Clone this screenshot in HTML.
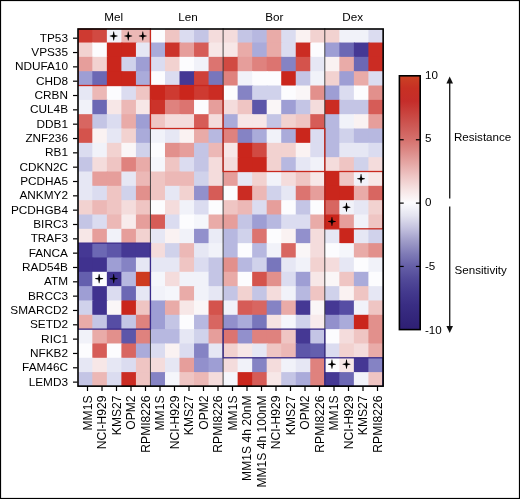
<!DOCTYPE html><html><head><meta charset="utf-8"><style>html,body{margin:0;padding:0;background:#fff;}#f{position:relative;width:520px;height:499px;overflow:hidden;background:#fff;will-change:transform;}svg{position:absolute;left:0;top:0;display:block;}text{font-family:"Liberation Sans",sans-serif;fill:#000;}</style></head><body><div id="f">
<svg width="520" height="499" viewBox="0 0 520 499">
<rect x="78.30" y="28.80" width="15.03" height="14.73" fill="#ce3a31"/>
<rect x="92.33" y="28.80" width="15.53" height="14.73" fill="#d14a42"/>
<rect x="106.86" y="28.80" width="15.53" height="14.73" fill="#f1f2f9"/>
<rect x="121.39" y="28.80" width="15.53" height="14.73" fill="#ecb8b6"/>
<rect x="135.92" y="28.80" width="15.53" height="14.73" fill="#ecb8b6"/>
<rect x="150.45" y="28.80" width="15.53" height="14.73" fill="#fcfcfe"/>
<rect x="164.98" y="28.80" width="15.53" height="14.73" fill="#efc5c3"/>
<rect x="179.51" y="28.80" width="15.53" height="14.73" fill="#dbdcf0"/>
<rect x="194.04" y="28.80" width="15.53" height="14.73" fill="#c4c5e5"/>
<rect x="208.57" y="28.80" width="15.53" height="14.73" fill="#f4dcdc"/>
<rect x="223.10" y="28.80" width="15.53" height="14.73" fill="#f4dcdc"/>
<rect x="237.63" y="28.80" width="15.53" height="14.73" fill="#c4c5e5"/>
<rect x="252.16" y="28.80" width="15.53" height="14.73" fill="#b7b8e0"/>
<rect x="266.69" y="28.80" width="15.53" height="14.73" fill="#e9aba8"/>
<rect x="281.22" y="28.80" width="15.53" height="14.73" fill="#dbdcf0"/>
<rect x="295.75" y="28.80" width="15.53" height="14.73" fill="#faf2f2"/>
<rect x="310.28" y="28.80" width="15.53" height="14.73" fill="#f2d2d0"/>
<rect x="324.81" y="28.80" width="15.53" height="14.73" fill="#f2d2d0"/>
<rect x="339.34" y="28.80" width="15.53" height="14.73" fill="#f1f2f9"/>
<rect x="353.87" y="28.80" width="15.53" height="14.73" fill="#f1f2f9"/>
<rect x="368.40" y="28.80" width="14.53" height="14.73" fill="#dbdcf0"/>
<rect x="78.30" y="42.53" width="15.03" height="15.33" fill="#f2d2d0"/>
<rect x="92.33" y="42.53" width="15.53" height="15.33" fill="#fcfcfe"/>
<rect x="106.86" y="42.53" width="15.53" height="15.33" fill="#ca261c"/>
<rect x="121.39" y="42.53" width="15.53" height="15.33" fill="#ca261c"/>
<rect x="135.92" y="42.53" width="15.53" height="15.33" fill="#e6e7f4"/>
<rect x="150.45" y="42.53" width="15.53" height="15.33" fill="#aaabda"/>
<rect x="164.98" y="42.53" width="15.53" height="15.33" fill="#cc332a"/>
<rect x="179.51" y="42.53" width="15.53" height="15.33" fill="#e69e9b"/>
<rect x="194.04" y="42.53" width="15.53" height="15.33" fill="#d65c57"/>
<rect x="208.57" y="42.53" width="15.53" height="15.33" fill="#f7e7e7"/>
<rect x="223.10" y="42.53" width="15.53" height="15.33" fill="#f7e7e7"/>
<rect x="237.63" y="42.53" width="15.53" height="15.33" fill="#e9aba8"/>
<rect x="252.16" y="42.53" width="15.53" height="15.33" fill="#aaabda"/>
<rect x="266.69" y="42.53" width="15.53" height="15.33" fill="#e9aba8"/>
<rect x="281.22" y="42.53" width="15.53" height="15.33" fill="#dbdcf0"/>
<rect x="295.75" y="42.53" width="15.53" height="15.33" fill="#cb2c23"/>
<rect x="310.28" y="42.53" width="15.53" height="15.33" fill="#fcfcfe"/>
<rect x="324.81" y="42.53" width="15.53" height="15.33" fill="#9e9ed4"/>
<rect x="339.34" y="42.53" width="15.53" height="15.33" fill="#6c68b4"/>
<rect x="353.87" y="42.53" width="15.53" height="15.33" fill="#453894"/>
<rect x="368.40" y="42.53" width="14.53" height="15.33" fill="#cb2c23"/>
<rect x="78.30" y="56.86" width="15.03" height="15.33" fill="#e69e9b"/>
<rect x="92.33" y="56.86" width="15.53" height="15.33" fill="#f2d2d0"/>
<rect x="106.86" y="56.86" width="15.53" height="15.33" fill="#ca261c"/>
<rect x="121.39" y="56.86" width="15.53" height="15.33" fill="#d0d2eb"/>
<rect x="135.92" y="56.86" width="15.53" height="15.33" fill="#9e9ed4"/>
<rect x="150.45" y="56.86" width="15.53" height="15.33" fill="#dbdcf0"/>
<rect x="164.98" y="56.86" width="15.53" height="15.33" fill="#f2d2d0"/>
<rect x="179.51" y="56.86" width="15.53" height="15.33" fill="#fcfcfe"/>
<rect x="194.04" y="56.86" width="15.53" height="15.33" fill="#f1f2f9"/>
<rect x="208.57" y="56.86" width="15.53" height="15.33" fill="#dc7470"/>
<rect x="223.10" y="56.86" width="15.53" height="15.33" fill="#d14a42"/>
<rect x="237.63" y="56.86" width="15.53" height="15.33" fill="#e69e9b"/>
<rect x="252.16" y="56.86" width="15.53" height="15.33" fill="#df827e"/>
<rect x="266.69" y="56.86" width="15.53" height="15.33" fill="#dc7470"/>
<rect x="281.22" y="56.86" width="15.53" height="15.33" fill="#8583c4"/>
<rect x="295.75" y="56.86" width="15.53" height="15.33" fill="#d4534c"/>
<rect x="310.28" y="56.86" width="15.53" height="15.33" fill="#e6e7f4"/>
<rect x="324.81" y="56.86" width="15.53" height="15.33" fill="#faf2f2"/>
<rect x="339.34" y="56.86" width="15.53" height="15.33" fill="#e9aba8"/>
<rect x="353.87" y="56.86" width="15.53" height="15.33" fill="#6c68b4"/>
<rect x="368.40" y="56.86" width="14.53" height="15.33" fill="#cb2c23"/>
<rect x="78.30" y="71.19" width="15.03" height="15.33" fill="#9e9ed4"/>
<rect x="92.33" y="71.19" width="15.53" height="15.33" fill="#6c68b4"/>
<rect x="106.86" y="71.19" width="15.53" height="15.33" fill="#ca261c"/>
<rect x="121.39" y="71.19" width="15.53" height="15.33" fill="#ca261c"/>
<rect x="135.92" y="71.19" width="15.53" height="15.33" fill="#aaabda"/>
<rect x="150.45" y="71.19" width="15.53" height="15.33" fill="#fcfcfe"/>
<rect x="164.98" y="71.19" width="15.53" height="15.33" fill="#dbdcf0"/>
<rect x="179.51" y="71.19" width="15.53" height="15.33" fill="#453894"/>
<rect x="194.04" y="71.19" width="15.53" height="15.33" fill="#cf4038"/>
<rect x="208.57" y="71.19" width="15.53" height="15.33" fill="#7876bc"/>
<rect x="223.10" y="71.19" width="15.53" height="15.33" fill="#df827e"/>
<rect x="237.63" y="71.19" width="15.53" height="15.33" fill="#f1f2f9"/>
<rect x="252.16" y="71.19" width="15.53" height="15.33" fill="#fcfcfe"/>
<rect x="266.69" y="71.19" width="15.53" height="15.33" fill="#fcfcfe"/>
<rect x="281.22" y="71.19" width="15.53" height="15.33" fill="#ca261c"/>
<rect x="295.75" y="71.19" width="15.53" height="15.33" fill="#c4c5e5"/>
<rect x="310.28" y="71.19" width="15.53" height="15.33" fill="#f1f2f9"/>
<rect x="324.81" y="71.19" width="15.53" height="15.33" fill="#f2d2d0"/>
<rect x="339.34" y="71.19" width="15.53" height="15.33" fill="#9e9ed4"/>
<rect x="353.87" y="71.19" width="15.53" height="15.33" fill="#e9aba8"/>
<rect x="368.40" y="71.19" width="14.53" height="15.33" fill="#dbdcf0"/>
<rect x="78.30" y="85.52" width="15.03" height="15.33" fill="#e6e7f4"/>
<rect x="92.33" y="85.52" width="15.53" height="15.33" fill="#ecb8b6"/>
<rect x="106.86" y="85.52" width="15.53" height="15.33" fill="#fcfcfe"/>
<rect x="121.39" y="85.52" width="15.53" height="15.33" fill="#dbdcf0"/>
<rect x="135.92" y="85.52" width="15.53" height="15.33" fill="#efc5c3"/>
<rect x="150.45" y="85.52" width="15.53" height="15.33" fill="#ca261c"/>
<rect x="164.98" y="85.52" width="15.53" height="15.33" fill="#ce3a31"/>
<rect x="179.51" y="85.52" width="15.53" height="15.33" fill="#ca261c"/>
<rect x="194.04" y="85.52" width="15.53" height="15.33" fill="#ce3a31"/>
<rect x="208.57" y="85.52" width="15.53" height="15.33" fill="#cb2c23"/>
<rect x="223.10" y="85.52" width="15.53" height="15.33" fill="#fcfcfe"/>
<rect x="237.63" y="85.52" width="15.53" height="15.33" fill="#8583c4"/>
<rect x="252.16" y="85.52" width="15.53" height="15.33" fill="#d0d2eb"/>
<rect x="266.69" y="85.52" width="15.53" height="15.33" fill="#d0d2eb"/>
<rect x="281.22" y="85.52" width="15.53" height="15.33" fill="#fcfcfe"/>
<rect x="295.75" y="85.52" width="15.53" height="15.33" fill="#faf6f7"/>
<rect x="310.28" y="85.52" width="15.53" height="15.33" fill="#e2908c"/>
<rect x="324.81" y="85.52" width="15.53" height="15.33" fill="#9e9ed4"/>
<rect x="339.34" y="85.52" width="15.53" height="15.33" fill="#dbdcf0"/>
<rect x="353.87" y="85.52" width="15.53" height="15.33" fill="#fcfcfe"/>
<rect x="368.40" y="85.52" width="14.53" height="15.33" fill="#e2908c"/>
<rect x="78.30" y="99.85" width="15.03" height="15.33" fill="#f1f2f9"/>
<rect x="92.33" y="99.85" width="15.53" height="15.33" fill="#6c68b4"/>
<rect x="106.86" y="99.85" width="15.53" height="15.33" fill="#f7e7e7"/>
<rect x="121.39" y="99.85" width="15.53" height="15.33" fill="#ecb8b6"/>
<rect x="135.92" y="99.85" width="15.53" height="15.33" fill="#f7e7e7"/>
<rect x="150.45" y="99.85" width="15.53" height="15.33" fill="#cc332a"/>
<rect x="164.98" y="99.85" width="15.53" height="15.33" fill="#df827e"/>
<rect x="179.51" y="99.85" width="15.53" height="15.33" fill="#dc7470"/>
<rect x="194.04" y="99.85" width="15.53" height="15.33" fill="#fcfcfe"/>
<rect x="208.57" y="99.85" width="15.53" height="15.33" fill="#e69e9b"/>
<rect x="223.10" y="99.85" width="15.53" height="15.33" fill="#f4dcdc"/>
<rect x="237.63" y="99.85" width="15.53" height="15.33" fill="#efc5c3"/>
<rect x="252.16" y="99.85" width="15.53" height="15.33" fill="#5d56a9"/>
<rect x="266.69" y="99.85" width="15.53" height="15.33" fill="#faf6f7"/>
<rect x="281.22" y="99.85" width="15.53" height="15.33" fill="#9e9ed4"/>
<rect x="295.75" y="99.85" width="15.53" height="15.33" fill="#c4c5e5"/>
<rect x="310.28" y="99.85" width="15.53" height="15.33" fill="#f4dcdc"/>
<rect x="324.81" y="99.85" width="15.53" height="15.33" fill="#cb2c23"/>
<rect x="339.34" y="99.85" width="15.53" height="15.33" fill="#c4c5e5"/>
<rect x="353.87" y="99.85" width="15.53" height="15.33" fill="#c4c5e5"/>
<rect x="368.40" y="99.85" width="14.53" height="15.33" fill="#d65c57"/>
<rect x="78.30" y="114.18" width="15.03" height="15.33" fill="#d86661"/>
<rect x="92.33" y="114.18" width="15.53" height="15.33" fill="#c4c5e5"/>
<rect x="106.86" y="114.18" width="15.53" height="15.33" fill="#dbdcf0"/>
<rect x="121.39" y="114.18" width="15.53" height="15.33" fill="#e9aba8"/>
<rect x="135.92" y="114.18" width="15.53" height="15.33" fill="#9e9ed4"/>
<rect x="150.45" y="114.18" width="15.53" height="15.33" fill="#efc5c3"/>
<rect x="164.98" y="114.18" width="15.53" height="15.33" fill="#f4dcdc"/>
<rect x="179.51" y="114.18" width="15.53" height="15.33" fill="#f4dcdc"/>
<rect x="194.04" y="114.18" width="15.53" height="15.33" fill="#d65c57"/>
<rect x="208.57" y="114.18" width="15.53" height="15.33" fill="#f4dcdc"/>
<rect x="223.10" y="114.18" width="15.53" height="15.33" fill="#aaabda"/>
<rect x="237.63" y="114.18" width="15.53" height="15.33" fill="#f7e7e7"/>
<rect x="252.16" y="114.18" width="15.53" height="15.33" fill="#f7e7e7"/>
<rect x="266.69" y="114.18" width="15.53" height="15.33" fill="#c4c5e5"/>
<rect x="281.22" y="114.18" width="15.53" height="15.33" fill="#f2d2d0"/>
<rect x="295.75" y="114.18" width="15.53" height="15.33" fill="#efc5c3"/>
<rect x="310.28" y="114.18" width="15.53" height="15.33" fill="#d65c57"/>
<rect x="324.81" y="114.18" width="15.53" height="15.33" fill="#b7b8e0"/>
<rect x="339.34" y="114.18" width="15.53" height="15.33" fill="#f1f2f9"/>
<rect x="353.87" y="114.18" width="15.53" height="15.33" fill="#faf2f2"/>
<rect x="368.40" y="114.18" width="14.53" height="15.33" fill="#e69e9b"/>
<rect x="78.30" y="128.51" width="15.03" height="15.33" fill="#d4534c"/>
<rect x="92.33" y="128.51" width="15.53" height="15.33" fill="#faf2f2"/>
<rect x="106.86" y="128.51" width="15.53" height="15.33" fill="#e6e7f4"/>
<rect x="121.39" y="128.51" width="15.53" height="15.33" fill="#f2d2d0"/>
<rect x="135.92" y="128.51" width="15.53" height="15.33" fill="#aaabda"/>
<rect x="150.45" y="128.51" width="15.53" height="15.33" fill="#f1f2f9"/>
<rect x="164.98" y="128.51" width="15.53" height="15.33" fill="#e6e7f4"/>
<rect x="179.51" y="128.51" width="15.53" height="15.33" fill="#faf2f2"/>
<rect x="194.04" y="128.51" width="15.53" height="15.33" fill="#e9aba8"/>
<rect x="208.57" y="128.51" width="15.53" height="15.33" fill="#b7b8e0"/>
<rect x="223.10" y="128.51" width="15.53" height="15.33" fill="#df827e"/>
<rect x="237.63" y="128.51" width="15.53" height="15.33" fill="#8583c4"/>
<rect x="252.16" y="128.51" width="15.53" height="15.33" fill="#aaabda"/>
<rect x="266.69" y="128.51" width="15.53" height="15.33" fill="#f1f2f9"/>
<rect x="281.22" y="128.51" width="15.53" height="15.33" fill="#aaabda"/>
<rect x="295.75" y="128.51" width="15.53" height="15.33" fill="#ca261c"/>
<rect x="310.28" y="128.51" width="15.53" height="15.33" fill="#dbdcf0"/>
<rect x="324.81" y="128.51" width="15.53" height="15.33" fill="#b7b8e0"/>
<rect x="339.34" y="128.51" width="15.53" height="15.33" fill="#d0d2eb"/>
<rect x="353.87" y="128.51" width="15.53" height="15.33" fill="#b7b8e0"/>
<rect x="368.40" y="128.51" width="14.53" height="15.33" fill="#b7b8e0"/>
<rect x="78.30" y="142.84" width="15.03" height="15.33" fill="#dbdcf0"/>
<rect x="92.33" y="142.84" width="15.53" height="15.33" fill="#f1f2f9"/>
<rect x="106.86" y="142.84" width="15.53" height="15.33" fill="#f2d2d0"/>
<rect x="121.39" y="142.84" width="15.53" height="15.33" fill="#faf6f7"/>
<rect x="135.92" y="142.84" width="15.53" height="15.33" fill="#d0d2eb"/>
<rect x="150.45" y="142.84" width="15.53" height="15.33" fill="#fcfcfe"/>
<rect x="164.98" y="142.84" width="15.53" height="15.33" fill="#e2908c"/>
<rect x="179.51" y="142.84" width="15.53" height="15.33" fill="#e69e9b"/>
<rect x="194.04" y="142.84" width="15.53" height="15.33" fill="#c4c5e5"/>
<rect x="208.57" y="142.84" width="15.53" height="15.33" fill="#ecb8b6"/>
<rect x="223.10" y="142.84" width="15.53" height="15.33" fill="#f7e7e7"/>
<rect x="237.63" y="142.84" width="15.53" height="15.33" fill="#ca261c"/>
<rect x="252.16" y="142.84" width="15.53" height="15.33" fill="#d14a42"/>
<rect x="266.69" y="142.84" width="15.53" height="15.33" fill="#f2d2d0"/>
<rect x="281.22" y="142.84" width="15.53" height="15.33" fill="#f2d2d0"/>
<rect x="295.75" y="142.84" width="15.53" height="15.33" fill="#faf2f2"/>
<rect x="310.28" y="142.84" width="15.53" height="15.33" fill="#dbdcf0"/>
<rect x="324.81" y="142.84" width="15.53" height="15.33" fill="#b7b8e0"/>
<rect x="339.34" y="142.84" width="15.53" height="15.33" fill="#e6e7f4"/>
<rect x="353.87" y="142.84" width="15.53" height="15.33" fill="#e6e7f4"/>
<rect x="368.40" y="142.84" width="14.53" height="15.33" fill="#dbdcf0"/>
<rect x="78.30" y="157.17" width="15.03" height="15.33" fill="#c4c5e5"/>
<rect x="92.33" y="157.17" width="15.53" height="15.33" fill="#f4dcdc"/>
<rect x="106.86" y="157.17" width="15.53" height="15.33" fill="#efc5c3"/>
<rect x="121.39" y="157.17" width="15.53" height="15.33" fill="#df827e"/>
<rect x="135.92" y="157.17" width="15.53" height="15.33" fill="#e9aba8"/>
<rect x="150.45" y="157.17" width="15.53" height="15.33" fill="#f5f6fb"/>
<rect x="164.98" y="157.17" width="15.53" height="15.33" fill="#efc5c3"/>
<rect x="179.51" y="157.17" width="15.53" height="15.33" fill="#dbdcf0"/>
<rect x="194.04" y="157.17" width="15.53" height="15.33" fill="#c4c5e5"/>
<rect x="208.57" y="157.17" width="15.53" height="15.33" fill="#f4dcdc"/>
<rect x="223.10" y="157.17" width="15.53" height="15.33" fill="#f4dcdc"/>
<rect x="237.63" y="157.17" width="15.53" height="15.33" fill="#ca261c"/>
<rect x="252.16" y="157.17" width="15.53" height="15.33" fill="#ca261c"/>
<rect x="266.69" y="157.17" width="15.53" height="15.33" fill="#f2d2d0"/>
<rect x="281.22" y="157.17" width="15.53" height="15.33" fill="#b7b8e0"/>
<rect x="295.75" y="157.17" width="15.53" height="15.33" fill="#e6e7f4"/>
<rect x="310.28" y="157.17" width="15.53" height="15.33" fill="#f1f2f9"/>
<rect x="324.81" y="157.17" width="15.53" height="15.33" fill="#f4dcdc"/>
<rect x="339.34" y="157.17" width="15.53" height="15.33" fill="#efc5c3"/>
<rect x="353.87" y="157.17" width="15.53" height="15.33" fill="#d0d2eb"/>
<rect x="368.40" y="157.17" width="14.53" height="15.33" fill="#f4dcdc"/>
<rect x="78.30" y="171.50" width="15.03" height="15.33" fill="#e6e7f4"/>
<rect x="92.33" y="171.50" width="15.53" height="15.33" fill="#e69e9b"/>
<rect x="106.86" y="171.50" width="15.53" height="15.33" fill="#e69e9b"/>
<rect x="121.39" y="171.50" width="15.53" height="15.33" fill="#e6e7f4"/>
<rect x="135.92" y="171.50" width="15.53" height="15.33" fill="#ecb8b6"/>
<rect x="150.45" y="171.50" width="15.53" height="15.33" fill="#efc5c3"/>
<rect x="164.98" y="171.50" width="15.53" height="15.33" fill="#ecb8b6"/>
<rect x="179.51" y="171.50" width="15.53" height="15.33" fill="#ecb8b6"/>
<rect x="194.04" y="171.50" width="15.53" height="15.33" fill="#d0d2eb"/>
<rect x="208.57" y="171.50" width="15.53" height="15.33" fill="#f4dcdc"/>
<rect x="223.10" y="171.50" width="15.53" height="15.33" fill="#e69e9b"/>
<rect x="237.63" y="171.50" width="15.53" height="15.33" fill="#e6e7f4"/>
<rect x="252.16" y="171.50" width="15.53" height="15.33" fill="#f2d2d0"/>
<rect x="266.69" y="171.50" width="15.53" height="15.33" fill="#f1f2f9"/>
<rect x="281.22" y="171.50" width="15.53" height="15.33" fill="#f4dcdc"/>
<rect x="295.75" y="171.50" width="15.53" height="15.33" fill="#efc5c3"/>
<rect x="310.28" y="171.50" width="15.53" height="15.33" fill="#f7e7e7"/>
<rect x="324.81" y="171.50" width="15.53" height="15.33" fill="#ca261c"/>
<rect x="339.34" y="171.50" width="15.53" height="15.33" fill="#efc5c3"/>
<rect x="353.87" y="171.50" width="15.53" height="15.33" fill="#f1f2f9"/>
<rect x="368.40" y="171.50" width="14.53" height="15.33" fill="#f7e7e7"/>
<rect x="78.30" y="185.83" width="15.03" height="15.33" fill="#e6e7f4"/>
<rect x="92.33" y="185.83" width="15.53" height="15.33" fill="#dbdcf0"/>
<rect x="106.86" y="185.83" width="15.53" height="15.33" fill="#efc5c3"/>
<rect x="121.39" y="185.83" width="15.53" height="15.33" fill="#d0d2eb"/>
<rect x="135.92" y="185.83" width="15.53" height="15.33" fill="#e2908c"/>
<rect x="150.45" y="185.83" width="15.53" height="15.33" fill="#efc5c3"/>
<rect x="164.98" y="185.83" width="15.53" height="15.33" fill="#e6e7f4"/>
<rect x="179.51" y="185.83" width="15.53" height="15.33" fill="#f2d2d0"/>
<rect x="194.04" y="185.83" width="15.53" height="15.33" fill="#9290cc"/>
<rect x="208.57" y="185.83" width="15.53" height="15.33" fill="#d65c57"/>
<rect x="223.10" y="185.83" width="15.53" height="15.33" fill="#fcfcfe"/>
<rect x="237.63" y="185.83" width="15.53" height="15.33" fill="#cb2c23"/>
<rect x="252.16" y="185.83" width="15.53" height="15.33" fill="#ecb8b6"/>
<rect x="266.69" y="185.83" width="15.53" height="15.33" fill="#d0d2eb"/>
<rect x="281.22" y="185.83" width="15.53" height="15.33" fill="#e6e7f4"/>
<rect x="295.75" y="185.83" width="15.53" height="15.33" fill="#dc7470"/>
<rect x="310.28" y="185.83" width="15.53" height="15.33" fill="#e69e9b"/>
<rect x="324.81" y="185.83" width="15.53" height="15.33" fill="#ca261c"/>
<rect x="339.34" y="185.83" width="15.53" height="15.33" fill="#ca261c"/>
<rect x="353.87" y="185.83" width="15.53" height="15.33" fill="#e9aba8"/>
<rect x="368.40" y="185.83" width="14.53" height="15.33" fill="#d86661"/>
<rect x="78.30" y="200.16" width="15.03" height="15.33" fill="#f2d2d0"/>
<rect x="92.33" y="200.16" width="15.53" height="15.33" fill="#ecb8b6"/>
<rect x="106.86" y="200.16" width="15.53" height="15.33" fill="#efc5c3"/>
<rect x="121.39" y="200.16" width="15.53" height="15.33" fill="#f4dcdc"/>
<rect x="135.92" y="200.16" width="15.53" height="15.33" fill="#efc5c3"/>
<rect x="150.45" y="200.16" width="15.53" height="15.33" fill="#fcfcfe"/>
<rect x="164.98" y="200.16" width="15.53" height="15.33" fill="#f4dcdc"/>
<rect x="179.51" y="200.16" width="15.53" height="15.33" fill="#f1f2f9"/>
<rect x="194.04" y="200.16" width="15.53" height="15.33" fill="#dbdcf0"/>
<rect x="208.57" y="200.16" width="15.53" height="15.33" fill="#fcfcfe"/>
<rect x="223.10" y="200.16" width="15.53" height="15.33" fill="#efc5c3"/>
<rect x="237.63" y="200.16" width="15.53" height="15.33" fill="#ecb8b6"/>
<rect x="252.16" y="200.16" width="15.53" height="15.33" fill="#dbdcf0"/>
<rect x="266.69" y="200.16" width="15.53" height="15.33" fill="#e69e9b"/>
<rect x="281.22" y="200.16" width="15.53" height="15.33" fill="#fcfcfe"/>
<rect x="295.75" y="200.16" width="15.53" height="15.33" fill="#c4c5e5"/>
<rect x="310.28" y="200.16" width="15.53" height="15.33" fill="#fcfcfe"/>
<rect x="324.81" y="200.16" width="15.53" height="15.33" fill="#d86661"/>
<rect x="339.34" y="200.16" width="15.53" height="15.33" fill="#f1f2f9"/>
<rect x="353.87" y="200.16" width="15.53" height="15.33" fill="#e6e7f4"/>
<rect x="368.40" y="200.16" width="14.53" height="15.33" fill="#f2d2d0"/>
<rect x="78.30" y="214.49" width="15.03" height="15.33" fill="#c4c5e5"/>
<rect x="92.33" y="214.49" width="15.53" height="15.33" fill="#dbdcf0"/>
<rect x="106.86" y="214.49" width="15.53" height="15.33" fill="#ecb8b6"/>
<rect x="121.39" y="214.49" width="15.53" height="15.33" fill="#f8ebec"/>
<rect x="135.92" y="214.49" width="15.53" height="15.33" fill="#e69e9b"/>
<rect x="150.45" y="214.49" width="15.53" height="15.33" fill="#d65c57"/>
<rect x="164.98" y="214.49" width="15.53" height="15.33" fill="#dbdcf0"/>
<rect x="179.51" y="214.49" width="15.53" height="15.33" fill="#fcfcfe"/>
<rect x="194.04" y="214.49" width="15.53" height="15.33" fill="#f5f6fb"/>
<rect x="208.57" y="214.49" width="15.53" height="15.33" fill="#e9aba8"/>
<rect x="223.10" y="214.49" width="15.53" height="15.33" fill="#e69e9b"/>
<rect x="237.63" y="214.49" width="15.53" height="15.33" fill="#c4c5e5"/>
<rect x="252.16" y="214.49" width="15.53" height="15.33" fill="#9e9ed4"/>
<rect x="266.69" y="214.49" width="15.53" height="15.33" fill="#b7b8e0"/>
<rect x="281.22" y="214.49" width="15.53" height="15.33" fill="#dbdcf0"/>
<rect x="295.75" y="214.49" width="15.53" height="15.33" fill="#dbdcf0"/>
<rect x="310.28" y="214.49" width="15.53" height="15.33" fill="#e9aba8"/>
<rect x="324.81" y="214.49" width="15.53" height="15.33" fill="#ca261c"/>
<rect x="339.34" y="214.49" width="15.53" height="15.33" fill="#e69e9b"/>
<rect x="353.87" y="214.49" width="15.53" height="15.33" fill="#f1f2f9"/>
<rect x="368.40" y="214.49" width="14.53" height="15.33" fill="#efc5c3"/>
<rect x="78.30" y="228.82" width="15.03" height="15.33" fill="#f7e7e7"/>
<rect x="92.33" y="228.82" width="15.53" height="15.33" fill="#e69e9b"/>
<rect x="106.86" y="228.82" width="15.53" height="15.33" fill="#f1f2f9"/>
<rect x="121.39" y="228.82" width="15.53" height="15.33" fill="#e69e9b"/>
<rect x="135.92" y="228.82" width="15.53" height="15.33" fill="#f2d2d0"/>
<rect x="150.45" y="228.82" width="15.53" height="15.33" fill="#e6e7f4"/>
<rect x="164.98" y="228.82" width="15.53" height="15.33" fill="#faf2f2"/>
<rect x="179.51" y="228.82" width="15.53" height="15.33" fill="#f1f2f9"/>
<rect x="194.04" y="228.82" width="15.53" height="15.33" fill="#9290cc"/>
<rect x="208.57" y="228.82" width="15.53" height="15.33" fill="#eaebf6"/>
<rect x="223.10" y="228.82" width="15.53" height="15.33" fill="#b7b8e0"/>
<rect x="237.63" y="228.82" width="15.53" height="15.33" fill="#d0d2eb"/>
<rect x="252.16" y="228.82" width="15.53" height="15.33" fill="#dc7470"/>
<rect x="266.69" y="228.82" width="15.53" height="15.33" fill="#fcfcfe"/>
<rect x="281.22" y="228.82" width="15.53" height="15.33" fill="#faf2f2"/>
<rect x="295.75" y="228.82" width="15.53" height="15.33" fill="#9290cc"/>
<rect x="310.28" y="228.82" width="15.53" height="15.33" fill="#f4dcdc"/>
<rect x="324.81" y="228.82" width="15.53" height="15.33" fill="#e6e7f4"/>
<rect x="339.34" y="228.82" width="15.53" height="15.33" fill="#ca261c"/>
<rect x="353.87" y="228.82" width="15.53" height="15.33" fill="#e6e7f4"/>
<rect x="368.40" y="228.82" width="14.53" height="15.33" fill="#d0d2eb"/>
<rect x="78.30" y="243.15" width="15.03" height="15.33" fill="#453894"/>
<rect x="92.33" y="243.15" width="15.53" height="15.33" fill="#6c68b4"/>
<rect x="106.86" y="243.15" width="15.53" height="15.33" fill="#5d56a9"/>
<rect x="121.39" y="243.15" width="15.53" height="15.33" fill="#453894"/>
<rect x="135.92" y="243.15" width="15.53" height="15.33" fill="#453894"/>
<rect x="150.45" y="243.15" width="15.53" height="15.33" fill="#f4dcdc"/>
<rect x="164.98" y="243.15" width="15.53" height="15.33" fill="#d0d2eb"/>
<rect x="179.51" y="243.15" width="15.53" height="15.33" fill="#ecb8b6"/>
<rect x="194.04" y="243.15" width="15.53" height="15.33" fill="#e6e7f4"/>
<rect x="208.57" y="243.15" width="15.53" height="15.33" fill="#f1f2f9"/>
<rect x="223.10" y="243.15" width="15.53" height="15.33" fill="#b7b8e0"/>
<rect x="237.63" y="243.15" width="15.53" height="15.33" fill="#fcfcfe"/>
<rect x="252.16" y="243.15" width="15.53" height="15.33" fill="#b7b8e0"/>
<rect x="266.69" y="243.15" width="15.53" height="15.33" fill="#f1f2f9"/>
<rect x="281.22" y="243.15" width="15.53" height="15.33" fill="#d86661"/>
<rect x="295.75" y="243.15" width="15.53" height="15.33" fill="#faf6f7"/>
<rect x="310.28" y="243.15" width="15.53" height="15.33" fill="#f4dcdc"/>
<rect x="324.81" y="243.15" width="15.53" height="15.33" fill="#fcfcfe"/>
<rect x="339.34" y="243.15" width="15.53" height="15.33" fill="#f5f6fb"/>
<rect x="353.87" y="243.15" width="15.53" height="15.33" fill="#e9aba8"/>
<rect x="368.40" y="243.15" width="14.53" height="15.33" fill="#e2908c"/>
<rect x="78.30" y="257.48" width="15.03" height="15.33" fill="#40328f"/>
<rect x="92.33" y="257.48" width="15.53" height="15.33" fill="#40328f"/>
<rect x="106.86" y="257.48" width="15.53" height="15.33" fill="#9e9ed4"/>
<rect x="121.39" y="257.48" width="15.53" height="15.33" fill="#8583c4"/>
<rect x="135.92" y="257.48" width="15.53" height="15.33" fill="#e6e7f4"/>
<rect x="150.45" y="257.48" width="15.53" height="15.33" fill="#e6e7f4"/>
<rect x="164.98" y="257.48" width="15.53" height="15.33" fill="#e6e7f4"/>
<rect x="179.51" y="257.48" width="15.53" height="15.33" fill="#efc5c3"/>
<rect x="194.04" y="257.48" width="15.53" height="15.33" fill="#dbdcf0"/>
<rect x="208.57" y="257.48" width="15.53" height="15.33" fill="#c4c5e5"/>
<rect x="223.10" y="257.48" width="15.53" height="15.33" fill="#e2908c"/>
<rect x="237.63" y="257.48" width="15.53" height="15.33" fill="#b7b8e0"/>
<rect x="252.16" y="257.48" width="15.53" height="15.33" fill="#d0d2eb"/>
<rect x="266.69" y="257.48" width="15.53" height="15.33" fill="#7876bc"/>
<rect x="281.22" y="257.48" width="15.53" height="15.33" fill="#e6e7f4"/>
<rect x="295.75" y="257.48" width="15.53" height="15.33" fill="#f1f2f9"/>
<rect x="310.28" y="257.48" width="15.53" height="15.33" fill="#f2d2d0"/>
<rect x="324.81" y="257.48" width="15.53" height="15.33" fill="#f4dcdc"/>
<rect x="339.34" y="257.48" width="15.53" height="15.33" fill="#e6e7f4"/>
<rect x="353.87" y="257.48" width="15.53" height="15.33" fill="#fcfcfe"/>
<rect x="368.40" y="257.48" width="14.53" height="15.33" fill="#f1f2f9"/>
<rect x="78.30" y="271.81" width="15.03" height="15.33" fill="#645fae"/>
<rect x="92.33" y="271.81" width="15.53" height="15.33" fill="#fcfcfe"/>
<rect x="106.86" y="271.81" width="15.53" height="15.33" fill="#40328f"/>
<rect x="121.39" y="271.81" width="15.53" height="15.33" fill="#b7b8e0"/>
<rect x="135.92" y="271.81" width="15.53" height="15.33" fill="#ce3a1e"/>
<rect x="150.45" y="271.81" width="15.53" height="15.33" fill="#f5f6fb"/>
<rect x="164.98" y="271.81" width="15.53" height="15.33" fill="#f4dcdc"/>
<rect x="179.51" y="271.81" width="15.53" height="15.33" fill="#f1f2f9"/>
<rect x="194.04" y="271.81" width="15.53" height="15.33" fill="#f1f2f9"/>
<rect x="208.57" y="271.81" width="15.53" height="15.33" fill="#c4c5e5"/>
<rect x="223.10" y="271.81" width="15.53" height="15.33" fill="#e9aba8"/>
<rect x="237.63" y="271.81" width="15.53" height="15.33" fill="#fcfcfe"/>
<rect x="252.16" y="271.81" width="15.53" height="15.33" fill="#d4534c"/>
<rect x="266.69" y="271.81" width="15.53" height="15.33" fill="#e2908c"/>
<rect x="281.22" y="271.81" width="15.53" height="15.33" fill="#dbdcf0"/>
<rect x="295.75" y="271.81" width="15.53" height="15.33" fill="#9e9ed4"/>
<rect x="310.28" y="271.81" width="15.53" height="15.33" fill="#f7e7e7"/>
<rect x="324.81" y="271.81" width="15.53" height="15.33" fill="#faf6f7"/>
<rect x="339.34" y="271.81" width="15.53" height="15.33" fill="#efc5c3"/>
<rect x="353.87" y="271.81" width="15.53" height="15.33" fill="#aaabda"/>
<rect x="368.40" y="271.81" width="14.53" height="15.33" fill="#fcfcfe"/>
<rect x="78.30" y="286.14" width="15.03" height="15.33" fill="#9e9ed4"/>
<rect x="92.33" y="286.14" width="15.53" height="15.33" fill="#40328f"/>
<rect x="106.86" y="286.14" width="15.53" height="15.33" fill="#dbdcf0"/>
<rect x="121.39" y="286.14" width="15.53" height="15.33" fill="#6c68b4"/>
<rect x="135.92" y="286.14" width="15.53" height="15.33" fill="#e6e7f4"/>
<rect x="150.45" y="286.14" width="15.53" height="15.33" fill="#f1f2f9"/>
<rect x="164.98" y="286.14" width="15.53" height="15.33" fill="#f5f6fb"/>
<rect x="179.51" y="286.14" width="15.53" height="15.33" fill="#e9aba8"/>
<rect x="194.04" y="286.14" width="15.53" height="15.33" fill="#f1f2f9"/>
<rect x="208.57" y="286.14" width="15.53" height="15.33" fill="#e6e7f4"/>
<rect x="223.10" y="286.14" width="15.53" height="15.33" fill="#c4c5e5"/>
<rect x="237.63" y="286.14" width="15.53" height="15.33" fill="#f2d2d0"/>
<rect x="252.16" y="286.14" width="15.53" height="15.33" fill="#c4c5e5"/>
<rect x="266.69" y="286.14" width="15.53" height="15.33" fill="#f4dcdc"/>
<rect x="281.22" y="286.14" width="15.53" height="15.33" fill="#f1f2f9"/>
<rect x="295.75" y="286.14" width="15.53" height="15.33" fill="#b7b8e0"/>
<rect x="310.28" y="286.14" width="15.53" height="15.33" fill="#efc5c3"/>
<rect x="324.81" y="286.14" width="15.53" height="15.33" fill="#d0d2eb"/>
<rect x="339.34" y="286.14" width="15.53" height="15.33" fill="#faf2f2"/>
<rect x="353.87" y="286.14" width="15.53" height="15.33" fill="#efc5c3"/>
<rect x="368.40" y="286.14" width="14.53" height="15.33" fill="#e6e7f4"/>
<rect x="78.30" y="300.47" width="15.03" height="15.33" fill="#d0d2eb"/>
<rect x="92.33" y="300.47" width="15.53" height="15.33" fill="#40328f"/>
<rect x="106.86" y="300.47" width="15.53" height="15.33" fill="#faf6f7"/>
<rect x="121.39" y="300.47" width="15.53" height="15.33" fill="#ca261c"/>
<rect x="135.92" y="300.47" width="15.53" height="15.33" fill="#efc5c3"/>
<rect x="150.45" y="300.47" width="15.53" height="15.33" fill="#9e9ed4"/>
<rect x="164.98" y="300.47" width="15.53" height="15.33" fill="#e9aba8"/>
<rect x="179.51" y="300.47" width="15.53" height="15.33" fill="#f7e7e7"/>
<rect x="194.04" y="300.47" width="15.53" height="15.33" fill="#faf6f7"/>
<rect x="208.57" y="300.47" width="15.53" height="15.33" fill="#d4534c"/>
<rect x="223.10" y="300.47" width="15.53" height="15.33" fill="#f1f2f9"/>
<rect x="237.63" y="300.47" width="15.53" height="15.33" fill="#d65c57"/>
<rect x="252.16" y="300.47" width="15.53" height="15.33" fill="#d86661"/>
<rect x="266.69" y="300.47" width="15.53" height="15.33" fill="#8583c4"/>
<rect x="281.22" y="300.47" width="15.53" height="15.33" fill="#e9aba8"/>
<rect x="295.75" y="300.47" width="15.53" height="15.33" fill="#453894"/>
<rect x="310.28" y="300.47" width="15.53" height="15.33" fill="#faf6f7"/>
<rect x="324.81" y="300.47" width="15.53" height="15.33" fill="#453894"/>
<rect x="339.34" y="300.47" width="15.53" height="15.33" fill="#564da4"/>
<rect x="353.87" y="300.47" width="15.53" height="15.33" fill="#f1f2f9"/>
<rect x="368.40" y="300.47" width="14.53" height="15.33" fill="#efc5c3"/>
<rect x="78.30" y="314.80" width="15.03" height="15.33" fill="#e9aba8"/>
<rect x="92.33" y="314.80" width="15.53" height="15.33" fill="#c4c5e5"/>
<rect x="106.86" y="314.80" width="15.53" height="15.33" fill="#564da4"/>
<rect x="121.39" y="314.80" width="15.53" height="15.33" fill="#c4c5e5"/>
<rect x="135.92" y="314.80" width="15.53" height="15.33" fill="#df827e"/>
<rect x="150.45" y="314.80" width="15.53" height="15.33" fill="#9e9ed4"/>
<rect x="164.98" y="314.80" width="15.53" height="15.33" fill="#c4c5e5"/>
<rect x="179.51" y="314.80" width="15.53" height="15.33" fill="#fcfcfe"/>
<rect x="194.04" y="314.80" width="15.53" height="15.33" fill="#b7b8e0"/>
<rect x="208.57" y="314.80" width="15.53" height="15.33" fill="#d86661"/>
<rect x="223.10" y="314.80" width="15.53" height="15.33" fill="#9290cc"/>
<rect x="237.63" y="314.80" width="15.53" height="15.33" fill="#aaabda"/>
<rect x="252.16" y="314.80" width="15.53" height="15.33" fill="#7876bc"/>
<rect x="266.69" y="314.80" width="15.53" height="15.33" fill="#f6e3e2"/>
<rect x="281.22" y="314.80" width="15.53" height="15.33" fill="#f5f6fb"/>
<rect x="295.75" y="314.80" width="15.53" height="15.33" fill="#d0d2eb"/>
<rect x="310.28" y="314.80" width="15.53" height="15.33" fill="#f8ebec"/>
<rect x="324.81" y="314.80" width="15.53" height="15.33" fill="#9290cc"/>
<rect x="339.34" y="314.80" width="15.53" height="15.33" fill="#aaabda"/>
<rect x="353.87" y="314.80" width="15.53" height="15.33" fill="#ca261c"/>
<rect x="368.40" y="314.80" width="14.53" height="15.33" fill="#e2908c"/>
<rect x="78.30" y="329.13" width="15.03" height="15.33" fill="#f1f2f9"/>
<rect x="92.33" y="329.13" width="15.53" height="15.33" fill="#e9aba8"/>
<rect x="106.86" y="329.13" width="15.53" height="15.33" fill="#e2908c"/>
<rect x="121.39" y="329.13" width="15.53" height="15.33" fill="#5d56a9"/>
<rect x="135.92" y="329.13" width="15.53" height="15.33" fill="#df827e"/>
<rect x="150.45" y="329.13" width="15.53" height="15.33" fill="#b7b8e0"/>
<rect x="164.98" y="329.13" width="15.53" height="15.33" fill="#b7b8e0"/>
<rect x="179.51" y="329.13" width="15.53" height="15.33" fill="#e6e7f4"/>
<rect x="194.04" y="329.13" width="15.53" height="15.33" fill="#d0d2eb"/>
<rect x="208.57" y="329.13" width="15.53" height="15.33" fill="#e69e9b"/>
<rect x="223.10" y="329.13" width="15.53" height="15.33" fill="#dc7470"/>
<rect x="237.63" y="329.13" width="15.53" height="15.33" fill="#9290cc"/>
<rect x="252.16" y="329.13" width="15.53" height="15.33" fill="#df827e"/>
<rect x="266.69" y="329.13" width="15.53" height="15.33" fill="#df827e"/>
<rect x="281.22" y="329.13" width="15.53" height="15.33" fill="#efc5c3"/>
<rect x="295.75" y="329.13" width="15.53" height="15.33" fill="#453894"/>
<rect x="310.28" y="329.13" width="15.53" height="15.33" fill="#c4c5e5"/>
<rect x="324.81" y="329.13" width="15.53" height="15.33" fill="#fcfcfe"/>
<rect x="339.34" y="329.13" width="15.53" height="15.33" fill="#f4dcdc"/>
<rect x="353.87" y="329.13" width="15.53" height="15.33" fill="#efc5c3"/>
<rect x="368.40" y="329.13" width="14.53" height="15.33" fill="#e2908c"/>
<rect x="78.30" y="343.46" width="15.03" height="15.33" fill="#fcfcfe"/>
<rect x="92.33" y="343.46" width="15.53" height="15.33" fill="#d65c57"/>
<rect x="106.86" y="343.46" width="15.53" height="15.33" fill="#fcfcfe"/>
<rect x="121.39" y="343.46" width="15.53" height="15.33" fill="#d86661"/>
<rect x="135.92" y="343.46" width="15.53" height="15.33" fill="#aaabda"/>
<rect x="150.45" y="343.46" width="15.53" height="15.33" fill="#dbdcf0"/>
<rect x="164.98" y="343.46" width="15.53" height="15.33" fill="#faf2f2"/>
<rect x="179.51" y="343.46" width="15.53" height="15.33" fill="#dbdcf0"/>
<rect x="194.04" y="343.46" width="15.53" height="15.33" fill="#8583c4"/>
<rect x="208.57" y="343.46" width="15.53" height="15.33" fill="#e6e7f4"/>
<rect x="223.10" y="343.46" width="15.53" height="15.33" fill="#f2d2d0"/>
<rect x="237.63" y="343.46" width="15.53" height="15.33" fill="#f7e7e7"/>
<rect x="252.16" y="343.46" width="15.53" height="15.33" fill="#e6e7f4"/>
<rect x="266.69" y="343.46" width="15.53" height="15.33" fill="#efc5c3"/>
<rect x="281.22" y="343.46" width="15.53" height="15.33" fill="#ecb8b6"/>
<rect x="295.75" y="343.46" width="15.53" height="15.33" fill="#5d56a9"/>
<rect x="310.28" y="343.46" width="15.53" height="15.33" fill="#645fae"/>
<rect x="324.81" y="343.46" width="15.53" height="15.33" fill="#dbdcf0"/>
<rect x="339.34" y="343.46" width="15.53" height="15.33" fill="#f2d2d0"/>
<rect x="353.87" y="343.46" width="15.53" height="15.33" fill="#f4dcdc"/>
<rect x="368.40" y="343.46" width="14.53" height="15.33" fill="#e9aba8"/>
<rect x="78.30" y="357.79" width="15.03" height="15.33" fill="#e6e7f4"/>
<rect x="92.33" y="357.79" width="15.53" height="15.33" fill="#f7e7e7"/>
<rect x="106.86" y="357.79" width="15.53" height="15.33" fill="#e6e7f4"/>
<rect x="121.39" y="357.79" width="15.53" height="15.33" fill="#dbdcf0"/>
<rect x="135.92" y="357.79" width="15.53" height="15.33" fill="#efc5c3"/>
<rect x="150.45" y="357.79" width="15.53" height="15.33" fill="#f4dcdc"/>
<rect x="164.98" y="357.79" width="15.53" height="15.33" fill="#e6e7f4"/>
<rect x="179.51" y="357.79" width="15.53" height="15.33" fill="#e69e9b"/>
<rect x="194.04" y="357.79" width="15.53" height="15.33" fill="#9290cc"/>
<rect x="208.57" y="357.79" width="15.53" height="15.33" fill="#9e9ed4"/>
<rect x="223.10" y="357.79" width="15.53" height="15.33" fill="#f4dcdc"/>
<rect x="237.63" y="357.79" width="15.53" height="15.33" fill="#f1f2f9"/>
<rect x="252.16" y="357.79" width="15.53" height="15.33" fill="#8583c4"/>
<rect x="266.69" y="357.79" width="15.53" height="15.33" fill="#f4dcdc"/>
<rect x="281.22" y="357.79" width="15.53" height="15.33" fill="#f1f2f9"/>
<rect x="295.75" y="357.79" width="15.53" height="15.33" fill="#e6e7f4"/>
<rect x="310.28" y="357.79" width="15.53" height="15.33" fill="#df827e"/>
<rect x="324.81" y="357.79" width="15.53" height="15.33" fill="#fcfcfe"/>
<rect x="339.34" y="357.79" width="15.53" height="15.33" fill="#f7e7e7"/>
<rect x="353.87" y="357.79" width="15.53" height="15.33" fill="#453894"/>
<rect x="368.40" y="357.79" width="14.53" height="15.33" fill="#8583c4"/>
<rect x="78.30" y="372.12" width="15.03" height="14.33" fill="#c4c5e5"/>
<rect x="92.33" y="372.12" width="15.53" height="14.33" fill="#ecb8b6"/>
<rect x="106.86" y="372.12" width="15.53" height="14.33" fill="#dbdcf0"/>
<rect x="121.39" y="372.12" width="15.53" height="14.33" fill="#cb2c23"/>
<rect x="135.92" y="372.12" width="15.53" height="14.33" fill="#efc5c3"/>
<rect x="150.45" y="372.12" width="15.53" height="14.33" fill="#8583c4"/>
<rect x="164.98" y="372.12" width="15.53" height="14.33" fill="#f5f6fb"/>
<rect x="179.51" y="372.12" width="15.53" height="14.33" fill="#efc5c3"/>
<rect x="194.04" y="372.12" width="15.53" height="14.33" fill="#ecb8b6"/>
<rect x="208.57" y="372.12" width="15.53" height="14.33" fill="#f4dcdc"/>
<rect x="223.10" y="372.12" width="15.53" height="14.33" fill="#f5f6fb"/>
<rect x="237.63" y="372.12" width="15.53" height="14.33" fill="#ca261c"/>
<rect x="252.16" y="372.12" width="15.53" height="14.33" fill="#d65c57"/>
<rect x="266.69" y="372.12" width="15.53" height="14.33" fill="#f7e7e7"/>
<rect x="281.22" y="372.12" width="15.53" height="14.33" fill="#c4c5e5"/>
<rect x="295.75" y="372.12" width="15.53" height="14.33" fill="#aaabda"/>
<rect x="310.28" y="372.12" width="15.53" height="14.33" fill="#df827e"/>
<rect x="324.81" y="372.12" width="15.53" height="14.33" fill="#453894"/>
<rect x="339.34" y="372.12" width="15.53" height="14.33" fill="#6c68b4"/>
<rect x="353.87" y="372.12" width="15.53" height="14.33" fill="#f1f2f9"/>
<rect x="368.40" y="372.12" width="14.53" height="14.33" fill="#efc5c3"/>
<line x1="150.45" y1="28.20" x2="150.45" y2="386.45" stroke="#333" stroke-width="0.9"/>
<line x1="223.10" y1="28.20" x2="223.10" y2="386.45" stroke="#333" stroke-width="0.9"/>
<line x1="324.81" y1="28.20" x2="324.81" y2="386.45" stroke="#333" stroke-width="0.9"/>
<defs><clipPath id="hc"><rect x="78" y="28.6" width="305" height="357.6"/></clipPath></defs><g clip-path="url(#hc)">
<rect x="77.80" y="28.20" width="72.65" height="57.32" fill="none" stroke="#c8281e" stroke-width="1.30"/>
<rect x="150.45" y="85.52" width="72.65" height="42.99" fill="none" stroke="#c8281e" stroke-width="1.30"/>
<rect x="223.10" y="128.51" width="101.71" height="42.99" fill="none" stroke="#c8281e" stroke-width="1.30"/>
<rect x="324.81" y="171.50" width="58.12" height="57.32" fill="none" stroke="#c8281e" stroke-width="1.30"/>
<rect x="77.80" y="243.15" width="72.65" height="85.98" fill="none" stroke="#3a2b8a" stroke-width="1.30"/>
<rect x="223.10" y="329.13" width="101.71" height="28.66" fill="none" stroke="#3a2b8a" stroke-width="1.30"/>
<rect x="324.81" y="357.79" width="58.12" height="28.66" fill="none" stroke="#3a2b8a" stroke-width="1.30"/>
</g>
<rect x="78.0" y="29.0" width="305.15" height="357.15" fill="none" stroke="#000" stroke-width="1.6"/>
<path d="M114.00 31.40L114.65 35.05L117.65 35.70L117.65 36.30L114.65 36.95L114.00 40.60L113.40 40.60L112.75 36.95L109.75 36.30L109.75 35.70L112.75 35.05L113.40 31.40Z" fill="#000"/>
<path d="M128.55 31.40L129.20 35.05L132.20 35.70L132.20 36.30L129.20 36.95L128.55 40.60L127.95 40.60L127.30 36.95L124.30 36.30L124.30 35.70L127.30 35.05L127.95 31.40Z" fill="#000"/>
<path d="M143.10 31.40L143.75 35.05L146.75 35.70L146.75 36.30L143.75 36.95L143.10 40.60L142.50 40.60L141.85 36.95L138.85 36.30L138.85 35.70L141.85 35.05L142.50 31.40Z" fill="#000"/>
<path d="M99.45 273.99L100.10 277.64L103.10 278.29L103.10 278.89L100.10 279.54L99.45 283.19L98.85 283.19L98.20 279.54L95.20 278.89L95.20 278.29L98.20 277.64L98.85 273.99Z" fill="#000"/>
<path d="M114.00 273.99L114.65 277.64L117.65 278.29L117.65 278.89L114.65 279.54L114.00 283.19L113.40 283.19L112.75 279.54L109.75 278.89L109.75 278.29L112.75 277.64L113.40 273.99Z" fill="#000"/>
<path d="M361.35 174.10L362.00 177.75L365.00 178.40L365.00 179.00L362.00 179.65L361.35 183.30L360.75 183.30L360.10 179.65L357.10 179.00L357.10 178.40L360.10 177.75L360.75 174.10Z" fill="#000"/>
<path d="M346.80 202.64L347.45 206.29L350.45 206.94L350.45 207.54L347.45 208.19L346.80 211.84L346.20 211.84L345.55 208.19L342.55 207.54L342.55 206.94L345.55 206.29L346.20 202.64Z" fill="#000"/>
<path d="M332.25 216.91L332.90 220.56L335.90 221.21L335.90 221.81L332.90 222.46L332.25 226.11L331.65 226.11L331.00 222.46L328.00 221.81L328.00 221.21L331.00 220.56L331.65 216.91Z" fill="#000"/>
<path d="M332.25 359.61L332.90 363.26L335.90 363.91L335.90 364.51L332.90 365.16L332.25 368.81L331.65 368.81L331.00 365.16L328.00 364.51L328.00 363.91L331.00 363.26L331.65 359.61Z" fill="#000"/>
<path d="M346.80 359.61L347.45 363.26L350.45 363.91L350.45 364.51L347.45 365.16L346.80 368.81L346.20 368.81L345.55 365.16L342.55 364.51L342.55 363.91L345.55 363.26L346.20 359.61Z" fill="#000"/>
<line x1="73" y1="38.20" x2="77.5" y2="38.20" stroke="#000" stroke-width="1.2"/>
<text x="68.0" y="41.80" font-size="11.8" text-anchor="end">TP53</text>
<line x1="73" y1="52.53" x2="77.5" y2="52.53" stroke="#000" stroke-width="1.2"/>
<text x="68.0" y="56.13" font-size="11.8" text-anchor="end">VPS35</text>
<line x1="73" y1="66.86" x2="77.5" y2="66.86" stroke="#000" stroke-width="1.2"/>
<text x="68.0" y="70.46" font-size="11.8" text-anchor="end">NDUFA10</text>
<line x1="73" y1="81.19" x2="77.5" y2="81.19" stroke="#000" stroke-width="1.2"/>
<text x="68.0" y="84.79" font-size="11.8" text-anchor="end">CHD8</text>
<line x1="73" y1="95.52" x2="77.5" y2="95.52" stroke="#000" stroke-width="1.2"/>
<text x="68.0" y="99.12" font-size="11.8" text-anchor="end">CRBN</text>
<line x1="73" y1="109.85" x2="77.5" y2="109.85" stroke="#000" stroke-width="1.2"/>
<text x="68.0" y="113.45" font-size="11.8" text-anchor="end">CUL4B</text>
<line x1="73" y1="124.18" x2="77.5" y2="124.18" stroke="#000" stroke-width="1.2"/>
<text x="68.0" y="127.78" font-size="11.8" text-anchor="end">DDB1</text>
<line x1="73" y1="138.51" x2="77.5" y2="138.51" stroke="#000" stroke-width="1.2"/>
<text x="68.0" y="142.11" font-size="11.8" text-anchor="end">ZNF236</text>
<line x1="73" y1="152.84" x2="77.5" y2="152.84" stroke="#000" stroke-width="1.2"/>
<text x="68.0" y="156.44" font-size="11.8" text-anchor="end">RB1</text>
<line x1="73" y1="167.17" x2="77.5" y2="167.17" stroke="#000" stroke-width="1.2"/>
<text x="68.0" y="170.77" font-size="11.8" text-anchor="end">CDKN2C</text>
<line x1="73" y1="181.50" x2="77.5" y2="181.50" stroke="#000" stroke-width="1.2"/>
<text x="68.0" y="185.10" font-size="11.8" text-anchor="end">PCDHA5</text>
<line x1="73" y1="195.83" x2="77.5" y2="195.83" stroke="#000" stroke-width="1.2"/>
<text x="68.0" y="199.43" font-size="11.8" text-anchor="end">ANKMY2</text>
<line x1="73" y1="210.16" x2="77.5" y2="210.16" stroke="#000" stroke-width="1.2"/>
<text x="68.0" y="213.76" font-size="11.8" text-anchor="end">PCDHGB4</text>
<line x1="73" y1="224.49" x2="77.5" y2="224.49" stroke="#000" stroke-width="1.2"/>
<text x="68.0" y="228.09" font-size="11.8" text-anchor="end">BIRC3</text>
<line x1="73" y1="238.82" x2="77.5" y2="238.82" stroke="#000" stroke-width="1.2"/>
<text x="68.0" y="242.42" font-size="11.8" text-anchor="end">TRAF3</text>
<line x1="73" y1="253.15" x2="77.5" y2="253.15" stroke="#000" stroke-width="1.2"/>
<text x="68.0" y="256.75" font-size="11.8" text-anchor="end">FANCA</text>
<line x1="73" y1="267.48" x2="77.5" y2="267.48" stroke="#000" stroke-width="1.2"/>
<text x="68.0" y="271.08" font-size="11.8" text-anchor="end">RAD54B</text>
<line x1="73" y1="281.81" x2="77.5" y2="281.81" stroke="#000" stroke-width="1.2"/>
<text x="68.0" y="285.41" font-size="11.8" text-anchor="end">ATM</text>
<line x1="73" y1="296.14" x2="77.5" y2="296.14" stroke="#000" stroke-width="1.2"/>
<text x="68.0" y="299.74" font-size="11.8" text-anchor="end">BRCC3</text>
<line x1="73" y1="310.47" x2="77.5" y2="310.47" stroke="#000" stroke-width="1.2"/>
<text x="68.0" y="314.07" font-size="11.8" text-anchor="end">SMARCD2</text>
<line x1="73" y1="324.80" x2="77.5" y2="324.80" stroke="#000" stroke-width="1.2"/>
<text x="68.0" y="328.40" font-size="11.8" text-anchor="end">SETD2</text>
<line x1="73" y1="339.13" x2="77.5" y2="339.13" stroke="#000" stroke-width="1.2"/>
<text x="68.0" y="342.73" font-size="11.8" text-anchor="end">RIC1</text>
<line x1="73" y1="353.46" x2="77.5" y2="353.46" stroke="#000" stroke-width="1.2"/>
<text x="68.0" y="357.06" font-size="11.8" text-anchor="end">NFKB2</text>
<line x1="73" y1="367.79" x2="77.5" y2="367.79" stroke="#000" stroke-width="1.2"/>
<text x="68.0" y="371.39" font-size="11.8" text-anchor="end">FAM46C</text>
<line x1="73" y1="382.12" x2="77.5" y2="382.12" stroke="#000" stroke-width="1.2"/>
<text x="68.0" y="385.72" font-size="11.8" text-anchor="end">LEMD3</text>
<line x1="87.50" y1="386" x2="87.50" y2="391" stroke="#000" stroke-width="1.2"/>
<text transform="translate(91.80 395.5) rotate(-90)" font-size="12.1" text-anchor="end">MM1S</text>
<line x1="102.00" y1="386" x2="102.00" y2="391" stroke="#000" stroke-width="1.2"/>
<text transform="translate(106.30 395.5) rotate(-90)" font-size="12.1" text-anchor="end">NCI-H929</text>
<line x1="116.50" y1="386" x2="116.50" y2="391" stroke="#000" stroke-width="1.2"/>
<text transform="translate(120.80 395.5) rotate(-90)" font-size="12.1" text-anchor="end">KMS27</text>
<line x1="131.00" y1="386" x2="131.00" y2="391" stroke="#000" stroke-width="1.2"/>
<text transform="translate(135.30 395.5) rotate(-90)" font-size="12.1" text-anchor="end">OPM2</text>
<line x1="145.50" y1="386" x2="145.50" y2="391" stroke="#000" stroke-width="1.2"/>
<text transform="translate(149.80 395.5) rotate(-90)" font-size="12.1" text-anchor="end">RPMI8226</text>
<line x1="160.00" y1="386" x2="160.00" y2="391" stroke="#000" stroke-width="1.2"/>
<text transform="translate(164.30 395.5) rotate(-90)" font-size="12.1" text-anchor="end">MM1S</text>
<line x1="174.50" y1="386" x2="174.50" y2="391" stroke="#000" stroke-width="1.2"/>
<text transform="translate(178.80 395.5) rotate(-90)" font-size="12.1" text-anchor="end">NCI-H929</text>
<line x1="189.00" y1="386" x2="189.00" y2="391" stroke="#000" stroke-width="1.2"/>
<text transform="translate(193.30 395.5) rotate(-90)" font-size="12.1" text-anchor="end">KMS27</text>
<line x1="203.50" y1="386" x2="203.50" y2="391" stroke="#000" stroke-width="1.2"/>
<text transform="translate(207.80 395.5) rotate(-90)" font-size="12.1" text-anchor="end">OPM2</text>
<line x1="218.00" y1="386" x2="218.00" y2="391" stroke="#000" stroke-width="1.2"/>
<text transform="translate(222.30 395.5) rotate(-90)" font-size="12.1" text-anchor="end">RPMI8226</text>
<line x1="232.50" y1="386" x2="232.50" y2="391" stroke="#000" stroke-width="1.2"/>
<text transform="translate(236.80 395.5) rotate(-90)" font-size="12.1" text-anchor="end">MM1S</text>
<line x1="247.00" y1="386" x2="247.00" y2="391" stroke="#000" stroke-width="1.2"/>
<text transform="translate(251.30 395.5) rotate(-90)" font-size="12.1" text-anchor="end">MM1S 4h 20nM</text>
<line x1="261.50" y1="386" x2="261.50" y2="391" stroke="#000" stroke-width="1.2"/>
<text transform="translate(265.80 395.5) rotate(-90)" font-size="12.1" text-anchor="end">MM1S 4h 100nM</text>
<line x1="276.00" y1="386" x2="276.00" y2="391" stroke="#000" stroke-width="1.2"/>
<text transform="translate(280.30 395.5) rotate(-90)" font-size="12.1" text-anchor="end">NCI-H929</text>
<line x1="290.50" y1="386" x2="290.50" y2="391" stroke="#000" stroke-width="1.2"/>
<text transform="translate(294.80 395.5) rotate(-90)" font-size="12.1" text-anchor="end">KMS27</text>
<line x1="305.00" y1="386" x2="305.00" y2="391" stroke="#000" stroke-width="1.2"/>
<text transform="translate(309.30 395.5) rotate(-90)" font-size="12.1" text-anchor="end">OPM2</text>
<line x1="319.50" y1="386" x2="319.50" y2="391" stroke="#000" stroke-width="1.2"/>
<text transform="translate(323.80 395.5) rotate(-90)" font-size="12.1" text-anchor="end">RPMI8226</text>
<line x1="334.00" y1="386" x2="334.00" y2="391" stroke="#000" stroke-width="1.2"/>
<text transform="translate(338.30 395.5) rotate(-90)" font-size="12.1" text-anchor="end">MM1S</text>
<line x1="348.50" y1="386" x2="348.50" y2="391" stroke="#000" stroke-width="1.2"/>
<text transform="translate(352.80 395.5) rotate(-90)" font-size="12.1" text-anchor="end">NCI-H929</text>
<line x1="363.00" y1="386" x2="363.00" y2="391" stroke="#000" stroke-width="1.2"/>
<text transform="translate(367.30 395.5) rotate(-90)" font-size="12.1" text-anchor="end">KMS27</text>
<line x1="377.50" y1="386" x2="377.50" y2="391" stroke="#000" stroke-width="1.2"/>
<text transform="translate(381.80 395.5) rotate(-90)" font-size="12.1" text-anchor="end">RPMI8226</text>
<text x="113.60" y="21.4" font-size="11.7" text-anchor="middle">Mel</text>
<text x="188.00" y="21.4" font-size="11.7" text-anchor="middle">Len</text>
<text x="274.30" y="21.4" font-size="11.7" text-anchor="middle">Bor</text>
<text x="352.60" y="21.4" font-size="11.7" text-anchor="middle">Dex</text>
<defs><linearGradient id="g" x1="0" y1="0" x2="0" y2="1">
<stop offset="0.000" stop-color="#cb4224"/>
<stop offset="0.050" stop-color="#c73024"/>
<stop offset="0.100" stop-color="#c52d2a"/>
<stop offset="0.150" stop-color="#c9443f"/>
<stop offset="0.200" stop-color="#ce5a56"/>
<stop offset="0.250" stop-color="#d5706c"/>
<stop offset="0.300" stop-color="#dd8c89"/>
<stop offset="0.350" stop-color="#e6aaa8"/>
<stop offset="0.400" stop-color="#efc8c7"/>
<stop offset="0.450" stop-color="#f6e4e4"/>
<stop offset="0.500" stop-color="#fcfcfe"/>
<stop offset="0.550" stop-color="#e4e4f0"/>
<stop offset="0.600" stop-color="#c4c2df"/>
<stop offset="0.650" stop-color="#a09dc9"/>
<stop offset="0.700" stop-color="#807cb7"/>
<stop offset="0.750" stop-color="#655fa7"/>
<stop offset="0.800" stop-color="#524a99"/>
<stop offset="0.850" stop-color="#443a8e"/>
<stop offset="0.900" stop-color="#3a2e84"/>
<stop offset="0.950" stop-color="#33267b"/>
<stop offset="1.000" stop-color="#2e1f74"/>
</linearGradient></defs>
<rect x="399.40" y="75.80" width="20.80" height="253.80" fill="url(#g)" stroke="#000" stroke-width="1.6"/>
<text x="425.0" y="79.05" font-size="11.6">10</text>
<line x1="399.40" y1="139.75" x2="403.70" y2="139.75" stroke="#000" stroke-width="1.2"/>
<line x1="415.90" y1="139.75" x2="420.20" y2="139.75" stroke="#000" stroke-width="1.2"/>
<text x="425.0" y="142.45" font-size="11.6">5</text>
<line x1="399.40" y1="203.10" x2="403.70" y2="203.10" stroke="#000" stroke-width="1.2"/>
<line x1="415.90" y1="203.10" x2="420.20" y2="203.10" stroke="#000" stroke-width="1.2"/>
<text x="425.0" y="206.15" font-size="11.6">0</text>
<line x1="399.40" y1="266.45" x2="403.70" y2="266.45" stroke="#000" stroke-width="1.2"/>
<line x1="415.90" y1="266.45" x2="420.20" y2="266.45" stroke="#000" stroke-width="1.2"/>
<text x="425.0" y="270.45" font-size="11.6">-5</text>
<text x="425.0" y="333.55" font-size="11.6">-10</text>
<line x1="449.70" y1="82" x2="449.70" y2="198.5" stroke="#222" stroke-width="1.4"/>
<path d="M449.70 76.5L446.40 83.5L453.00 83.5Z" fill="#111"/>
<line x1="449.70" y1="206.6" x2="449.70" y2="327" stroke="#222" stroke-width="1.4"/>
<path d="M449.70 333L446.40 326L453.00 326Z" fill="#111"/>
<text x="453.9" y="141.2" font-size="11.6">Resistance</text>
<text x="454.6" y="273.8" font-size="11.6">Sensitivity</text>
<rect x="0.5" y="0.5" width="519" height="498" fill="none" stroke="#000" stroke-width="1.2"/>
</svg></div></body></html>
